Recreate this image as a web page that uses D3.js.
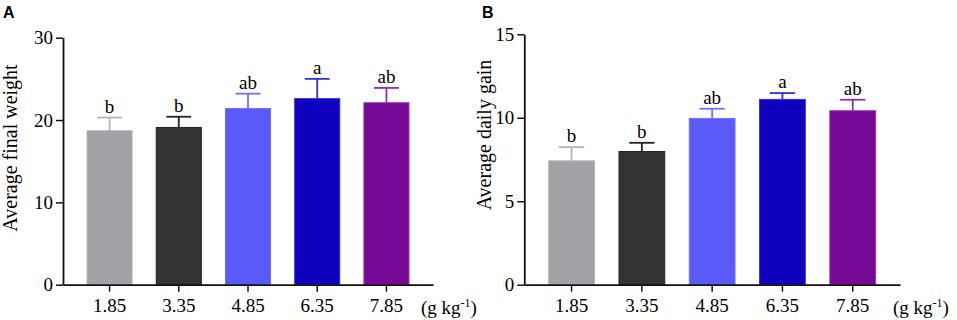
<!DOCTYPE html>
<html>
<head>
<meta charset="utf-8">
<script src="https://cdn.jsdelivr.net/npm/d3@7"></script>
<style>
  body { margin: 0; background: #fff; }
  svg text { font-family: "Liberation Serif", "Times New Roman", serif; }
</style>
</head>
<body>
<div id="chart"></div>
<script>
const doses = ["1.85", "3.35", "4.85", "6.35", "7.85"];
const barColors = ["#a2a1a6", "#333333", "#5a5af8", "#1000c0", "#750895"];
const edgeColors = ["#b4b3b8", "#222222", "#7070ff", "#3030d8", "#9030b0"];

// panel A
const finalWeight = [18.7, 19.1, 21.4, 22.6, 22.1];
const finalWeightErr = [1.6, 1.3, 1.8, 2.4, 1.8];
const finalWeightLetters = ["b", "b", "ab", "a", "ab"];
const finalWeightTicks = [0, 10, 20, 30];

// panel B
const dailyGain = [7.42, 7.98, 9.96, 11.1, 10.42];
const dailyGainErr = [0.82, 0.52, 0.58, 0.38, 0.66];
const dailyGainLetters = ["b", "b", "ab", "a", "ab"];
const dailyGainTicks = [0, 5, 10, 15];

const svg = d3.select("#chart").append("svg")
  .attr("width", 957)
  .attr("height", 320);

function drawPanel(opt) {
  const g = svg.append("g");

  const x = d3.scaleBand()
    .domain(doses)
    .range([opt.left, opt.right])
    .paddingInner(0.335)
    .paddingOuter(0.34);

  const y = d3.scaleLinear()
    .domain([0, opt.max])
    .range([284.7, opt.top]);

  // bars
  g.selectAll(".bar")
    .data(opt.values)
    .enter().append("rect")
    .attr("class", "bar")
    .attr("x", (d, i) => x(doses[i]) + 0.5)
    .attr("y", d => y(d))
    .attr("width", x.bandwidth() - 1)
    .attr("height", d => y(0) - y(d))
    .attr("fill", (d, i) => barColors[i])
    .attr("stroke", (d, i) => edgeColors[i])
    .attr("stroke-width", 1);

  // error bars (upper only) + letters
  const capW = x.bandwidth() * 0.54;
  opt.values.forEach((v, i) => {
    const cx = x(doses[i]) + x.bandwidth() / 2;
    const top = y(v + opt.err[i]);
    g.append("line")
      .attr("x1", cx).attr("x2", cx)
      .attr("y1", y(v)).attr("y2", top)
      .attr("stroke", edgeColors[i]).attr("stroke-width", 1.8);
    g.append("line")
      .attr("x1", cx - capW / 2).attr("x2", cx + capW / 2)
      .attr("y1", top).attr("y2", top)
      .attr("stroke", edgeColors[i]).attr("stroke-width", 1.8);
    g.append("text")
      .attr("x", cx)
      .attr("y", top - 5)
      .attr("text-anchor", "middle")
      .attr("font-size", 19)
      .attr("fill", "#000")
      .text(opt.letters[i]);
  });

  // axes
  const yAxis = d3.axisLeft(y)
    .tickValues(opt.ticks)
    .tickSize(7)
    .tickPadding(3)
    .tickSizeOuter(0);
  const yg = g.append("g")
    .attr("transform", `translate(${opt.left},0)`)
    .call(yAxis);

  const xAxis = d3.axisBottom(x)
    .tickSize(7)
    .tickPadding(7)
    .tickSizeOuter(0);
  const xg = g.append("g")
    .attr("transform", `translate(0,${y(0)})`)
    .call(xAxis);

  [yg, xg].forEach(a => {
    a.select(".domain").attr("stroke", "#111").attr("stroke-width", 1.8);
    a.selectAll(".tick line").attr("stroke", "#111").attr("stroke-width", 1.5);
    a.selectAll(".tick text")
      .attr("font-size", 19)
      .attr("fill", "#000")
      .style("font-family", "'Liberation Serif', serif");
  });

  // y title
  g.append("text")
    .attr("transform", `translate(${opt.titleX},${opt.titleY}) rotate(-90)`)
    .attr("text-anchor", "middle")
    .attr("font-size", 20)
    .attr("fill", "#000")
    .text(opt.title);

  // unit
  const unit = g.append("text")
    .attr("x", opt.unitX)
    .attr("y", 314)
    .attr("font-size", 19)
    .attr("fill", "#000");
  unit.append("tspan").text("(g kg");
  unit.append("tspan").attr("dy", -7).attr("font-size", 12).text("-1");
  unit.append("tspan").attr("dy", 7).text(")");

  // panel letter
  g.append("text")
    .attr("x", opt.letterX)
    .attr("y", 18)
    .attr("font-size", 16)
    .attr("font-weight", "bold")
    .style("font-family", "'Liberation Sans', Arial, sans-serif")
    .attr("fill", "#000")
    .text(opt.panel);
}

drawPanel({
  panel: "A", letterX: 3,
  left: 63, right: 433, top: 37.7, max: 30,
  values: finalWeight, err: finalWeightErr, letters: finalWeightLetters,
  ticks: finalWeightTicks,
  title: "Average final weight", titleX: 17, titleY: 148, unitX: 421
});

drawPanel({
  panel: "B", letterX: 482,
  left: 524.3, right: 900, top: 34.3, max: 15,
  values: dailyGain, err: dailyGainErr, letters: dailyGainLetters,
  ticks: dailyGainTicks,
  title: "Average daily gain", titleX: 491, titleY: 135, unitX: 893
});
</script>
</body>
</html>
